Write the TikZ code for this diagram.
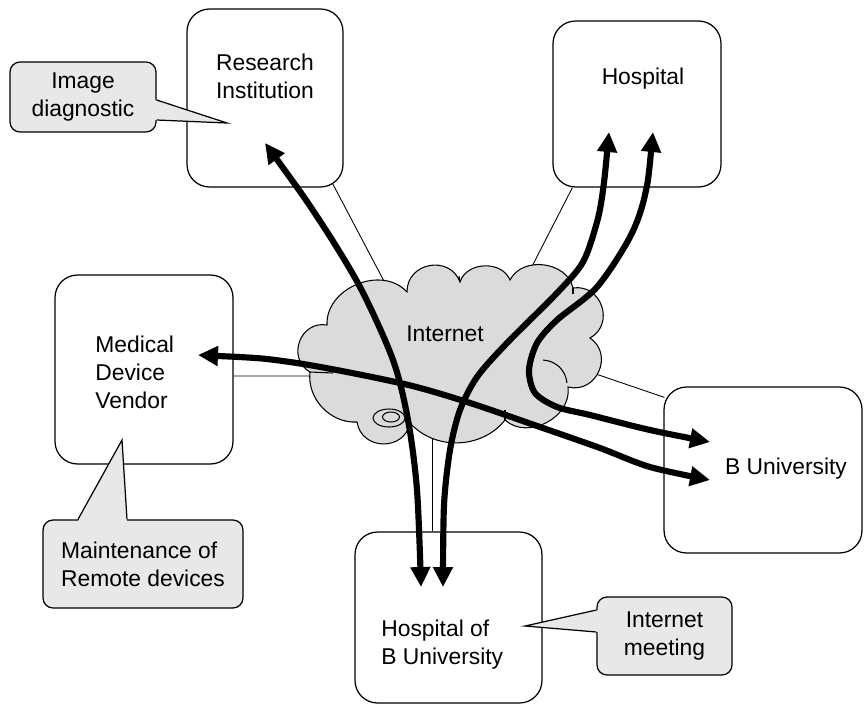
\documentclass[tikz,border=0pt]{standalone}
\usepackage{fontspec}
\setmainfont{Liberation Sans}
\usetikzlibrary{arrows.meta, calc}
\definecolor{cloudgray}{gray}{0.86}
\definecolor{notegray}{gray}{0.91}

\begin{document}
\begin{tikzpicture}[x=0.02cm, y=-0.02cm,
    site/.style={draw, line width=0.7pt, rounded corners=0.45cm},
    note/.style={draw, line width=0.7pt, fill=notegray, rounded corners=0.2cm,
        align=center, font=\fontsize{13}{16}\selectfont},
    lbl/.style={inner sep=0pt, font=\fontsize{13}{16}\selectfont},
    link/.style={line width=0.5pt},
    flow/.style={line width=3.5pt,
        {Triangle[length=0.4cm,width=0.38cm]}-{Triangle[length=0.4cm,width=0.38cm]}},
    bumpbig/.style={bend left=80, looseness=1.4},
    bumpmid/.style={bend left=70, looseness=1.1},
    bumpflat/.style={bend left=50}]
    \useasboundingbox (0,0) rectangle (864,706);

    % Sites
    \node[site, minimum width=3.12cm, minimum height=3.56cm] (research) at (265,98) {};
    \node[site, minimum width=3.36cm, minimum height=3.32cm] (hospital) at (637,104) {};
    \node[site, minimum width=3.56cm, minimum height=3.78cm] (vendor) at (144,369.5) {};
    \node[site, minimum width=3.96cm, minimum height=3.32cm] (buniv) at (763,470) {};
    \node[site, minimum width=3.74cm, minimum height=3.42cm] (hospb) at (448.5,617.5) {};

    \node[lbl, align=center] (research-t) at (265,76) {Research\\Institution};
    \node[lbl] (hospital-t) at (643,79) {Hospital};
    \node[lbl, align=left, anchor=west] (vendor-t) at (95,372) {Medical\\Device\\Vendor};
    \node[lbl] (buniv-t) at (786,469) {B University};
    \node[lbl, align=left, anchor=west] (hospb-t) at (381,645) {Hospital of\\B University};

    % Lines to the cloud
    \coordinate (cl-r) at (395,302);
    \coordinate (cl-h) at (525,280);
    \coordinate (cl-v) at (320,376);
    \coordinate (cl-b) at (590,372);
    \coordinate (cl-s) at (432,420);
    \draw[link] ($(research.south east)+(-11,-4)$) -- (cl-r);
    \draw[link] ($(hospital.south west)+(20,0)$) -- (cl-h);
    \draw[link] ($(vendor.east)+(0,6.5)$) -- (cl-v);
    \draw[link] (cl-b) -- ($(buniv.north west)+(1,11)$);
    \draw[link] (cl-s) -- ($(hospb.north)+(-16.5,0)$);

    % Internet cloud
    \draw[fill=cloudgray, line width=0.6pt] (310,372) to[bumpbig] (327,325)
        to[bumpmid] (407,292) to[bumpbig] (460,282) to[bumpmid] (510,280)
        to[bumpmid] (573,288) to[bumpbig] (590,338) to[bumpbig] (568,387)
        to[bumpmid] (505,420) to[bumpflat] (410,423) to[bumpbig] (357,422)
        to[bumpflat] (310,372) -- cycle;
    \draw[line width=0.6pt] (543,360) to[bend left=40] (567,383);
    \draw[line width=0.6pt] (310,372) -- (333,373);
    \draw[line width=0.6pt] (505,420) -- (505,410);
    \draw[line width=0.6pt] (460,282) -- (459,276);
    \draw[line width=0.6pt] (573,288) -- (573,294);
    \draw[line width=0.6pt] (389,418) ellipse [x radius=0.32cm, y radius=0.18cm];
    \draw[line width=0.6pt] (391,417) ellipse [x radius=0.17cm, y radius=0.1cm];
    \node[lbl] (internet) at (445,334) {Internet};

    % Callouts
    \node[note, minimum width=2.92cm, minimum height=1.4cm] (diag) at (83,97) {Image\\diagnostic};
    \coordinate (diag-tip) at (227,123);
    \fill[notegray] ($(diag.east)+(-2,3)$) -- (diag-tip) -- ($(diag.east)+(-2,23)$) -- cycle;
    \draw[line width=0.7pt] ($(diag.east)+(0,3)$) -- (diag-tip) -- ($(diag.east)+(0,23)$);

    \node[note, align=left, minimum width=4cm, minimum height=1.76cm] (maint) at (143,564) {Maintenance of\\Remote devices};
    \coordinate (maint-tip) at (122,440);
    \fill[notegray] ($(maint.north)+(-65,2)$) -- (maint-tip) -- ($(maint.north)+(-16,2)$) -- cycle;
    \draw[line width=0.7pt] ($(maint.north)+(-65,0)$) -- (maint-tip) -- ($(maint.north)+(-16,0)$);

    \node[note, minimum width=2.7cm, minimum height=1.56cm] (meet) at (664.5,636) {Internet\\meeting};
    \coordinate (meet-tip) at (525,626);
    \fill[notegray] ($(meet.west)+(2,-26)$) -- (meet-tip) -- ($(meet.west)+(2,-4)$) -- cycle;
    \draw[line width=0.7pt] ($(meet.west)+(0,-26)$) -- (meet-tip) -- ($(meet.west)+(0,-4)$);

    % Traffic through the internet
    \coordinate (res-end) at ($(research.center)+(0,45)$);
    \coordinate (hos-endB) at ($(hospital.center)+(-28,28)$);
    \coordinate (hos-endC) at ($(hospital.center)+(16,28)$);
    \coordinate (hb-endA) at ($(hospb.center)+(-27.5,-30.5)$);
    \coordinate (hb-endB) at ($(hospb.center)+(-5.5,-30.5)$);
    \coordinate (bu-endC) at ($(buniv.center)+(-53,-28)$);
    \coordinate (bu-endD) at ($(buniv.center)+(-53,10)$);
    \coordinate (ven-endD) at ($(vendor.center)+(54,-14.5)$);

    \draw[flow] plot[smooth] coordinates {(res-end) (318,218) (360,287) (393,360) (408,420) (417,490) (hb-endA)};
    \draw[flow] plot[smooth] coordinates {(hos-endB) (603,190) (597,222) (583,262) (557,293) (507,343) (477,377) (460,410) (450,450) (444,505) (hb-endB)};
    \draw[flow] plot[smooth] coordinates {(hos-endC) (645,195) (630,237) (597,287) (557,320) (537,343) (529,370) (535,393) (557,407) (590,415) (650,430) (bu-endC)};
    \draw[flow] plot[smooth] coordinates {(ven-endD) (290,362) (400,383) (467,402) (540,427) (600,448) (650,467) (bu-endD)};
\end{tikzpicture}
\end{document}
